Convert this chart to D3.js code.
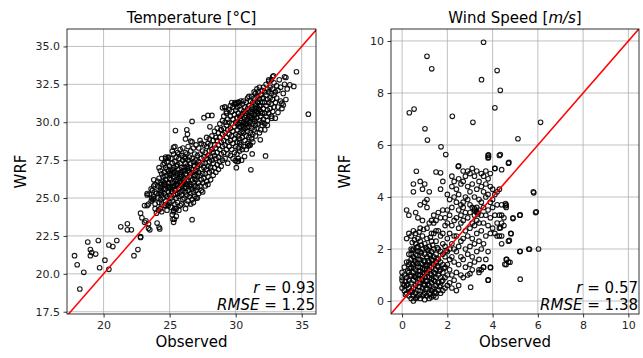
<!DOCTYPE html>
<html>
<head>
<meta charset="utf-8">
<script src="https://cdn.jsdelivr.net/npm/d3@7"></script>
<style>
  body { margin: 0; background: #fff; }
  svg { font-family: "DejaVu Sans", sans-serif; }
</style>
</head>
<body>
<div class="chart"></div>
<script>
/// Chart data: [observed, WRF]
var tempPoints = [
  [17.8,21.2],[18.0,20.6],[18.2,19.0],[18.5,20.1],[18.8,22.1],[19.0,21.6],[19.0,21.2],[19.1,21.4],[19.4,21.3],[19.6,22.2],
  [19.7,20.4],[20.1,20.9],[20.4,21.9],[20.7,21.8],[20.4,20.3],[21.0,22.2],[21.3,23.1],[21.8,23.3],[21.8,22.9],[22.1,22.9],
  [22.3,21.2],[22.6,21.6],[22.8,22.4],[22.8,22.45],[22.8,24.0],[22.9,23.7],[23.1,23.4],[23.2,23.5],[23.4,23.0],[23.5,22.9],
  [23.4,23.3],[23.3,24.5],[23.4,24.6],[23.1,24.5],[23.3,25.2],[23.45,25.25],[23.3,25.3],[23.8,25.8],[23.65,25.0],[23.8,24.95],
  [23.9,24.3],[24.0,24.0],[24.15,24.2],[24.05,23.35],[24.2,23.07],[24.25,22.96],[24.3,24.3],[24.4,24.1],[24.7,24.5],[24.8,24.6],
  [25.2,23.9],[25.25,23.6],[25.3,23.4],[25.3,24.2],[25.4,24.3],[25.44,29.45],[26.3,29.5],[26.35,29.2],[26.6,28.75],[26.2,28.9],
  [25.3,28.35],[26.7,30.05],[28.05,29.7],[28.9,29.5],[24.7,27.7],[24.9,27.65],[26.7,23.57],[25.5,23.8],[25.36,23.6],[27.6,30.3],
  [27.9,30.45],[28.2,30.45],[29.0,30.95],[30.05,27.0],[30.1,27.4],[30.2,27.43],[30.95,28.44],[31.15,26.86],[31.25,27.91],[31.86,28.84],
  [32.26,27.78],[32.73,30.27],[33.0,30.27],[33.2,30.64],[33.6,31.13],[33.5,31.26],[34.6,33.33],[35.5,30.53],[34.4,32.36],[34.1,32.47],
  [33.8,32.95],[33.7,33.0],[32.86,33.06],[32.5,32.8],[30.67,27.74],[30.45,27.5],[29.97,27.47],[31.05,28.49],[30.3,28.66],[30.2,31.33],
  [30.1,31.26],[29.95,31.3],[29.16,31.0],[29.3,30.7],
  [23.6,24.8],[23.7,25.5],[23.8,25.1],[23.9,24.6],[23.9,25.9],[23.6,25.6],[23.8,26.2],[24.0,25.3],[23.7,24.9],[23.9,25.4],
  [24.1,25.0],[24.1,25.8],[24.2,26.3],[24.2,24.7],[24.3,25.5],[24.3,26.0],[24.3,26.8],[24.4,25.2],[24.4,25.9],[24.4,24.6],
  [24.5,25.6],[24.5,26.4],[24.5,27.2],[24.2,25.3],[24.3,24.9],[24.4,26.6],[24.1,26.1],[24.5,25.0],[24.2,27.0],[24.4,27.6],
  [24.3,25.7],[24.5,26.1],
  [24.6,25.3],[24.6,25.9],[24.6,26.7],[24.7,24.8],[24.7,25.6],[24.7,26.2],[24.7,27.0],[24.8,25.1],[24.8,25.8],[24.8,26.5],
  [24.8,27.4],[24.9,24.5],[24.9,25.4],[24.9,26.0],[24.9,26.8],[25.0,25.2],[25.0,25.7],[25.0,26.3],[25.0,27.1],[24.6,24.5],
  [24.7,27.6],[24.8,24.2],[24.9,27.7],[25.0,24.7],[24.6,26.0],[24.7,25.2],[24.8,26.9],[24.9,25.7],[25.0,26.6],[24.6,27.3],
  [25.1,24.4],[25.1,25.0],[25.1,25.6],[25.1,26.2],[25.1,26.9],[25.1,27.6],[25.2,24.8],[25.2,25.4],[25.2,26.0],[25.2,26.6],
  [25.2,27.3],[25.3,25.2],[25.3,25.8],[25.3,26.4],[25.3,27.0],[25.3,27.9],[25.4,24.6],[25.4,25.5],[25.4,26.1],[25.4,26.7],
  [25.4,27.4],[25.5,25.0],[25.5,25.9],[25.5,26.5],[25.5,27.1],[25.5,24.3],[25.2,28.1],[25.4,28.4],[25.3,24.1],[25.5,27.7],
  [25.1,26.5],[25.2,25.7],[25.4,25.8],[25.3,26.7],[25.5,26.2],
  [25.6,24.7],[25.6,25.3],[25.6,25.9],[25.6,26.6],[25.6,27.2],[25.6,28.0],[25.7,25.1],[25.7,25.6],[25.7,26.3],[25.7,26.9],
  [25.7,27.6],[25.8,24.5],[25.8,25.4],[25.8,26.0],[25.8,26.7],[25.8,27.3],[25.8,28.2],[25.9,25.2],[25.9,25.8],[25.9,26.4],
  [25.9,27.0],[25.9,27.8],[26.0,24.9],[26.0,25.5],[26.0,26.2],[26.0,26.8],[26.0,27.5],[25.7,24.2],[25.9,24.6],[26.0,28.3],
  [25.6,26.1],[25.8,26.4],[25.7,27.9],[25.9,26.7],[26.0,25.9],
  [26.1,25.0],[26.1,25.7],[26.1,26.3],[26.1,27.0],[26.1,27.7],[26.2,25.4],[26.2,26.0],[26.2,26.6],[26.2,27.3],[26.2,28.0],
  [26.3,24.6],[26.3,25.2],[26.3,25.9],[26.3,26.5],[26.3,27.1],[26.3,27.9],[26.4,25.5],[26.4,26.2],[26.4,26.8],[26.4,27.5],
  [26.4,28.4],[26.5,25.1],[26.5,25.8],[26.5,26.4],[26.5,27.0],[26.5,27.7],[26.2,24.3],[26.4,24.8],[26.1,26.8],[26.3,26.1],
  [26.5,26.7],[26.2,27.6],
  [26.6,25.3],[26.6,25.9],[26.6,26.6],[26.6,27.3],[26.6,28.1],[26.7,24.9],[26.7,25.6],[26.7,26.2],[26.7,26.9],[26.7,27.6],
  [26.8,25.4],[26.8,26.0],[26.8,26.7],[26.8,27.4],[26.8,28.3],[26.9,25.1],[26.9,25.8],[26.9,26.5],[26.9,27.1],[26.9,27.9],
  [27.0,25.5],[27.0,26.2],[27.0,26.8],[27.0,27.5],[27.0,28.5],[26.6,24.6],[26.8,24.7],[26.7,28.7],[26.9,26.3],[27.0,25.0],
  [27.1,25.7],[27.1,26.4],[27.1,27.1],[27.1,27.8],[27.2,25.3],[27.2,26.0],[27.2,26.7],[27.2,27.4],[27.2,28.3],[27.3,25.8],
  [27.3,26.5],[27.3,27.2],[27.3,27.9],[27.4,25.5],[27.4,26.2],[27.4,26.9],[27.4,27.6],[27.4,28.6],[27.5,26.0],[27.5,26.6],
  [27.5,27.3],[27.5,28.1],[27.3,28.8],[27.1,25.0],[27.5,25.4],
  [27.6,26.3],[27.6,27.0],[27.6,27.7],[27.6,28.5],[27.7,25.8],[27.7,26.6],[27.7,27.3],[27.7,28.0],[27.8,26.1],[27.8,26.9],
  [27.8,27.6],[27.8,28.4],[27.8,29.0],[27.9,26.4],[27.9,27.1],[27.9,27.8],[27.9,28.6],[28.0,26.7],[28.0,27.4],[28.0,28.1],
  [28.0,28.9],[27.9,25.9],
  [28.1,26.2],[28.1,27.0],[28.1,27.7],[28.1,28.5],[28.2,26.8],[28.2,27.5],[28.2,28.2],[28.2,29.1],[28.3,26.5],[28.3,27.3],
  [28.3,28.0],[28.3,28.8],[28.4,27.0],[28.4,27.8],[28.4,28.5],[28.4,29.4],[28.5,26.7],[28.5,27.6],[28.5,28.3],[28.5,29.0],
  [28.6,27.2],[28.6,28.0],[28.6,28.8],[28.6,29.6],[28.7,26.9],[28.7,27.7],[28.7,28.5],[28.7,29.3],[28.8,27.4],[28.8,28.2],
  [28.8,29.0],[28.8,29.9],[28.9,27.9],[28.9,28.7],[28.9,29.5],[29.0,27.5],[29.0,28.4],[29.0,29.2],[29.0,30.1],[28.9,27.1],
  [29.1,28.0],[29.1,28.8],[29.1,29.6],[29.1,30.4],[29.2,27.6],[29.2,28.5],[29.2,29.3],[29.2,30.0],[29.3,28.2],[29.3,29.0],
  [29.3,29.8],[29.3,30.6],[29.4,27.9],[29.4,28.7],[29.4,29.5],[29.4,30.2],[29.5,28.4],[29.5,29.2],[29.5,30.0],[29.5,30.8],
  [29.2,31.0],[29.4,27.3],
  [29.6,28.8],[29.6,29.6],[29.6,30.4],[29.6,31.1],[29.7,28.2],[29.7,29.1],[29.7,29.9],[29.7,30.7],[29.8,28.6],[29.8,29.4],
  [29.8,30.2],[29.8,31.0],[29.9,28.0],[29.9,28.9],[29.9,29.7],[29.9,30.5],[30.0,28.4],[30.0,29.2],[30.0,30.0],[30.0,30.8],
  [29.6,27.8],[29.8,27.6],[30.0,31.2],[29.7,31.3],[29.9,31.2],
  [30.1,28.7],[30.1,29.5],[30.1,30.3],[30.1,31.0],[30.2,28.3],[30.2,29.1],[30.2,29.9],[30.2,30.6],[30.2,31.3],[30.3,28.9],
  [30.3,29.7],[30.3,30.4],[30.3,31.1],[30.4,28.5],[30.4,29.3],[30.4,30.1],[30.4,30.8],[30.5,29.0],[30.5,29.8],[30.5,30.5],
  [30.5,31.2],[30.1,27.9],[30.3,28.1],[30.5,28.2],[30.2,27.6],[30.4,31.4],[30.1,29.9],[30.3,30.0],[30.5,29.4],[30.4,29.7],
  [30.6,29.3],[30.6,30.0],[30.6,30.7],[30.6,31.4],[30.7,28.8],[30.7,29.6],[30.7,30.3],[30.7,31.0],[30.8,29.1],[30.8,29.9],
  [30.8,30.6],[30.8,31.3],[30.9,28.6],[30.9,29.4],[30.9,30.2],[30.9,30.9],[31.0,29.0],[31.0,29.7],[31.0,30.4],[31.0,31.1],
  [31.0,31.7],[30.6,28.4],[30.8,28.2],[30.9,31.6],[30.7,29.9],[30.8,30.1],[30.6,29.7],[31.0,30.0],[30.9,29.9],[30.7,30.6],
  [31.1,29.3],[31.1,30.0],[31.1,30.7],[31.1,31.4],[31.2,28.9],[31.2,29.6],[31.2,30.3],[31.2,31.0],[31.2,31.7],[31.3,29.2],
  [31.3,29.9],[31.3,30.6],[31.3,31.3],[31.4,29.5],[31.4,30.2],[31.4,30.9],[31.4,31.6],[31.5,29.8],[31.5,30.5],[31.5,31.2],
  [31.5,31.9],[31.1,28.5],[31.3,28.7],[31.4,32.0],[31.5,29.1],[31.2,30.6],[31.3,30.2],[31.4,30.5],[31.1,30.3],[31.5,30.9],
  [31.6,29.6],[31.6,30.3],[31.6,31.0],[31.6,31.7],[31.7,29.9],[31.7,30.6],[31.7,31.3],[31.7,32.0],[31.8,29.3],[31.8,30.1],
  [31.8,30.8],[31.8,31.5],[31.9,30.4],[31.9,31.1],[31.9,31.8],[32.0,29.8],[32.0,30.6],[32.0,31.3],[32.0,32.1],[31.6,32.2],
  [31.8,32.3],[31.9,29.5],[32.0,30.0],[31.7,30.9],[31.8,31.1],[31.6,30.7],[31.9,30.7],[32.0,31.6],
  [32.1,30.2],[32.1,30.9],[32.1,31.6],[32.1,32.3],[32.2,29.9],[32.2,30.6],[32.2,31.3],[32.2,32.0],[32.3,30.4],[32.3,31.1],
  [32.3,31.8],[32.3,32.5],[32.4,30.1],[32.4,30.8],[32.4,31.5],[32.4,32.2],[32.5,30.6],[32.5,31.3],[32.5,32.0],[32.5,32.7],
  [32.2,29.5],[32.4,29.8],
  [32.6,30.9],[32.6,31.6],[32.6,32.3],[32.7,30.4],[32.7,31.2],[32.7,31.9],[32.7,32.8],[32.8,30.7],[32.8,31.5],[32.8,32.2],
  [32.9,31.0],[32.9,31.8],[32.9,32.6],[33.0,31.3],[33.0,32.0],[32.8,33.0],
  [33.1,31.6],[33.1,32.4],[33.2,31.0],[33.2,32.1],[33.3,32.8],[33.4,31.4],[33.4,32.3],[33.6,31.9],[33.7,32.5],[33.9,32.2],
  [33.5,30.9],[33.8,31.5],
  [24.35,25.35],[24.65,26.45],[24.95,25.95],[25.25,26.85],[25.45,25.25],[25.75,26.55],[26.05,26.05],[26.35,26.95],[26.65,25.75],[26.95,26.75],
  [25.15,25.45],[25.65,25.65],[26.25,25.65],[26.85,27.15],[30.35,30.25],[30.75,30.45],[31.25,30.85],[31.65,31.35],[30.85,29.65],[31.45,30.05]
];

var windPoints = [
  [3.6,9.95],[1.1,9.41],[1.31,8.93],[4.2,8.86],[3.51,8.51],[4.34,8.1],[0.32,7.24],[0.53,7.38],[2.22,7.1],[4.1,7.43],
  [3.13,6.87],[6.12,6.87],[1.01,6.62],[1.12,6.19],[5.12,6.24],[1.72,5.93],[1.93,5.63],[3.82,5.62],[3.82,5.53],[4.34,5.63],
  [4.72,5.33],[4.1,5.1],[0.63,4.99],[1.5,4.96],[1.7,4.93],[2.48,5.17],[5.82,4.16],[5.93,3.43],[5.63,1.99],[6.03,2.0],
  [5.22,1.91],[5.22,0.84],[3.81,0.81],[3.03,0.53],[5.22,3.31],[4.9,3.17],[4.82,2.59],[4.74,2.33],[4.63,1.6],[4.77,1.49],
  [4.54,1.41],[4.57,3.75],[4.57,3.66],[4.4,3.3],[4.35,2.82],[3.91,1.28],[3.6,1.3],[3.4,1.2],
  [0.0,0.5],[0.0,0.9],[0.1,1.0],[0.1,0.4],[0.0,0.8],[0.1,0.6],[0.2,0.3],[0.2,0.9],[0.1,1.3],[0.2,1.5],[0.0,1.1],[0.2,0.6],
  [0.3,0.2],[0.3,0.5],[0.3,0.8],[0.3,1.1],[0.3,1.4],[0.4,0.4],[0.4,0.7],[0.4,1.0],[0.4,1.3],[0.4,1.6],[0.3,1.8],[0.4,2.0],
  [0.2,2.4],[0.3,2.6],[0.4,2.5],[0.2,3.5],[0.3,3.3],[0.4,0.1],[0.3,1.5],[0.4,1.8],
  [0.5,0.2],[0.5,0.5],[0.5,0.8],[0.5,1.1],[0.5,1.4],[0.5,1.7],[0.5,2.0],[0.6,0.3],[0.6,0.6],[0.6,0.9],[0.6,1.2],[0.6,1.5],
  [0.6,1.8],[0.6,2.2],[0.7,0.4],[0.7,0.7],[0.7,1.0],[0.7,1.3],[0.7,1.6],[0.7,1.9],[0.7,2.4],[0.5,2.7],[0.6,2.6],[0.5,4.2],
  [0.5,4.5],[0.6,3.4],[0.7,3.2],[0.5,0.0],[0.6,0.1],[0.7,0.2],[0.5,1.3],[0.6,1.0],[0.7,2.1],
  [0.8,0.1],[0.8,0.4],[0.8,0.7],[0.8,1.0],[0.8,1.3],[0.8,1.6],[0.8,1.9],[0.8,2.3],[0.9,0.2],[0.9,0.5],[0.9,0.8],[0.9,1.1],
  [0.9,1.4],[0.9,1.7],[0.9,2.0],[0.9,2.5],[1.0,0.3],[1.0,0.6],[1.0,0.9],[1.0,1.2],[1.0,1.5],[1.0,1.8],[1.0,2.2],[0.8,2.8],
  [0.9,3.1],[1.0,3.8],[0.8,4.6],[0.9,4.3],[1.0,4.5],[0.8,3.7],[1.0,0.05],[0.9,1.25],[0.8,1.15],[1.0,1.05],[0.9,0.95],
  [1.1,0.2],[1.1,0.5],[1.1,0.8],[1.1,1.1],[1.1,1.4],[1.1,1.7],[1.1,2.0],[1.1,2.4],[1.2,0.3],[1.2,0.6],[1.2,0.9],[1.2,1.2],
  [1.2,1.5],[1.2,1.8],[1.2,2.1],[1.3,0.4],[1.3,0.7],[1.3,1.0],[1.3,1.3],[1.3,1.6],[1.3,1.9],[1.3,2.3],[1.1,2.8],[1.2,3.0],
  [1.3,2.6],[1.1,3.6],[1.2,4.2],[1.3,3.1],[1.1,3.9],[1.2,0.1],[1.3,0.15],[1.1,1.25],[1.2,1.35],[1.3,0.85],
  [1.4,0.2],[1.4,0.5],[1.4,0.8],[1.4,1.1],[1.4,1.4],[1.4,1.7],[1.4,2.0],[1.4,2.6],[1.5,0.3],[1.5,0.6],[1.5,0.9],[1.5,1.2],
  [1.5,1.5],[1.5,1.8],[1.5,2.3],[1.5,3.1],[1.6,0.4],[1.6,0.7],[1.6,1.0],[1.6,1.3],[1.6,1.6],[1.6,2.0],[1.6,2.7],[1.4,3.0],
  [1.5,2.7],[1.6,3.4],[1.4,3.3],[1.5,0.15],
  [1.7,0.3],[1.7,0.6],[1.7,0.9],[1.7,1.2],[1.7,1.5],[1.7,1.9],[1.7,2.5],[1.8,0.4],[1.8,0.8],[1.8,1.1],[1.8,1.4],[1.8,1.8],
  [1.8,2.2],[1.8,3.5],[1.9,0.5],[1.9,0.9],[1.9,1.3],[1.9,1.7],[1.9,2.1],[1.9,2.9],[1.7,3.2],[1.8,4.6],[1.7,4.3],[1.9,3.2],
  [1.8,2.6],
  [2.0,0.6],[2.0,1.0],[2.0,1.4],[2.0,1.9],[2.0,2.4],[2.0,3.0],[2.0,3.5],[2.0,4.1],[2.1,0.7],[2.1,1.2],[2.1,1.6],[2.1,2.0],
  [2.1,2.6],[2.1,3.3],[2.2,0.5],[2.2,1.0],[2.2,1.7],[2.2,2.2],[2.2,2.9],[2.2,3.6],[2.2,4.4],[2.3,0.8],[2.3,1.5],[2.3,2.0],
  [2.3,2.5],[2.3,3.1],[2.3,4.0],[2.3,4.6],[2.1,3.9],[2.2,4.8],
  [2.4,0.4],[2.4,1.1],[2.4,1.9],[2.4,2.5],[2.4,3.2],[2.4,3.8],[2.4,4.3],[2.5,0.6],[2.5,1.4],[2.5,2.1],[2.5,2.8],[2.5,3.5],
  [2.5,4.1],[2.5,4.7],[2.5,5.2],[2.6,1.0],[2.6,1.7],[2.6,2.3],[2.6,3.0],[2.6,3.7],[2.6,4.5],[2.7,0.9],[2.7,1.6],[2.7,2.4],
  [2.7,3.1],[2.7,3.8],[2.7,4.6],[2.7,5.0],[2.6,3.3],[2.7,3.6],
  [2.8,1.3],[2.8,2.0],[2.8,2.7],[2.8,3.4],[2.8,4.0],[2.8,4.8],[2.9,1.0],[2.9,1.8],[2.9,2.5],[2.9,3.2],[2.9,3.9],[2.9,4.4],
  [2.9,5.0],[3.0,1.4],[3.0,2.1],[3.0,2.8],[3.0,3.4],[3.0,4.2],[3.0,4.9],[3.1,1.7],[3.1,2.4],[3.1,3.0],[3.1,3.6],[3.1,4.5],
  [3.1,5.1],[3.0,1.05],[3.1,1.2],[3.0,3.7],
  [3.2,1.5],[3.2,2.2],[3.2,2.9],[3.2,3.3],[3.2,3.5],[3.2,4.0],[3.2,4.8],[3.3,1.9],[3.3,2.6],[3.3,3.1],[3.3,3.4],[3.3,3.6],
  [3.3,4.3],[3.3,5.0],[3.4,1.6],[3.4,2.3],[3.4,3.0],[3.4,3.5],[3.4,3.9],[3.4,4.6],[3.5,2.0],[3.5,2.7],[3.5,3.3],[3.5,3.8],
  [3.5,4.4],[3.5,4.9],[3.5,1.2],[3.4,1.1],[3.3,3.45],[3.2,3.55],[3.35,3.35],
  [3.6,1.3],[3.6,2.2],[3.6,3.0],[3.6,3.6],[3.6,4.2],[3.6,4.8],[3.7,1.6],[3.7,2.5],[3.7,3.3],[3.7,4.0],[3.7,4.5],[3.7,5.0],
  [3.8,0.8],[3.8,1.9],[3.8,2.9],[3.8,3.5],[3.8,4.1],[3.8,4.7],[3.9,1.3],[3.9,2.6],[3.9,3.2],[3.9,3.8],[3.9,4.4],[3.9,4.9],
  [3.8,5.6],
  [4.0,2.8],[4.0,3.6],[4.0,4.3],[4.0,3.9],[4.1,2.6],[4.1,3.3],[4.1,4.1],[4.1,5.1],[4.2,2.5],[4.2,3.0],[4.2,3.7],[4.2,4.2],
  [4.3,2.5],[4.3,3.3],[4.3,2.8],[4.4,2.2],[4.4,2.5],[4.4,3.0],[4.4,5.05],[4.5,2.9],[4.5,3.2],[4.3,4.3],[4.4,3.7],
  [4.6,1.6],[4.6,1.4],[4.7,1.5],[4.6,3.7],[4.6,3.6],[4.7,2.3],[4.8,2.6],[4.9,3.2],[5.2,3.3],[5.2,1.9],[5.6,2.0],[5.9,3.4],
  [5.8,4.2],[4.7,5.3],[4.3,5.6],[3.8,5.5],
  [0.25,0.65],[0.35,1.25],[0.45,0.35],[0.55,0.95],[0.65,1.45],[0.75,0.55],[0.85,1.85],[0.95,0.25],[1.05,1.35],[1.15,0.65],
  [1.25,1.75],[1.35,0.45],[1.45,1.05],[1.55,1.65],[1.65,0.55],[0.15,0.75],[0.45,1.95],[0.55,2.35],[0.65,0.15],[0.75,1.15],
  [0.85,0.85],[0.95,1.55],[1.05,2.05],[1.15,1.95],[1.25,0.25],[1.35,2.15],[1.45,0.75],[1.55,2.05],[1.65,1.15],[0.35,0.95],
  [0.25,1.15],[0.55,1.55],[0.65,2.05],[0.75,0.85],[0.85,2.15],[0.95,0.65],[1.05,0.75],[1.15,1.55],[1.25,1.05],[1.35,1.55],
  [1.45,0.35],[1.55,1.35],[0.15,0.25],[0.45,2.25],[0.95,2.75],[1.25,2.45],[0.75,2.65],[1.75,0.75],[1.85,1.25],[1.95,1.95],
  [0.05,0.65],[0.35,0.35],[1.05,0.45],[0.65,1.75],[0.85,1.45]
];

var tempXTicks = [20, 25, 30, 35];
var tempYTicks = [17.5, 20, 22.5, 25, 27.5, 30, 32.5, 35];
var windTicks = [0, 2, 4, 6, 8, 10];

var tempStats = { r: "0.93", rmse: "1.25" };
var windStats = { r: "0.57", rmse: "1.38" };

/// SVG wrapper
var svgWidth = 643;
var svgHeight = 358;
var top0 = 29, bottom0 = 314;

var svg = d3.select(".chart")
    .append("svg")
    .attr("width", svgWidth)
    .attr("height", svgHeight);

function drawPanel(opt) {
    var x = d3.scaleLinear().domain(opt.xDomain).range([opt.left, opt.right]);
    var y = d3.scaleLinear().domain(opt.yDomain).range([bottom0, top0]);
    var g = svg.append("g");

    var clipId = "clip-" + opt.id;
    g.append("clipPath").attr("id", clipId)
        .append("rect")
        .attr("x", opt.left).attr("y", top0)
        .attr("width", opt.right - opt.left).attr("height", bottom0 - top0);

    /// grid lines
    g.append("g").selectAll("line").data(opt.xTicks).enter().append("line")
        .attr("x1", d => x(d)).attr("x2", d => x(d))
        .attr("y1", top0).attr("y2", bottom0)
        .attr("stroke", "#b0b0b0").attr("stroke-width", 0.8);
    g.append("g").selectAll("line").data(opt.yTicks).enter().append("line")
        .attr("y1", d => y(d)).attr("y2", d => y(d))
        .attr("x1", opt.left).attr("x2", opt.right)
        .attr("stroke", "#b0b0b0").attr("stroke-width", 0.8);

    /// points
    g.append("g").attr("clip-path", "url(#" + clipId + ")")
        .selectAll("circle").data(opt.points).enter().append("circle")
        .attr("cx", d => x(d[0]))
        .attr("cy", d => y(d[1]))
        .attr("r", 2.3)
        .attr("fill", "none")
        .attr("stroke", "#000")
        .attr("stroke-opacity", 0.9)
        .attr("stroke-width", 1.1);

    /// 1:1 line
    var lo = Math.min(opt.xDomain[0], opt.yDomain[0]);
    var hi = Math.max(opt.xDomain[1], opt.yDomain[1]);
    g.append("line").attr("clip-path", "url(#" + clipId + ")")
        .attr("x1", x(lo)).attr("y1", y(lo))
        .attr("x2", x(hi)).attr("y2", y(hi))
        .attr("stroke", "red").attr("stroke-width", 1.5);

    /// axes
    var xAxis = d3.axisBottom(x).tickValues(opt.xTicks).tickSize(3.5).tickPadding(3.5).tickFormat(opt.xFormat);
    var yAxis = d3.axisLeft(y).tickValues(opt.yTicks).tickSize(3.5).tickPadding(3.5).tickFormat(opt.yFormat);
    var xa = g.append("g").attr("transform", `translate(0, ${bottom0})`).call(xAxis);
    var ya = g.append("g").attr("transform", `translate(${opt.left}, 0)`).call(yAxis);
    [xa, ya].forEach(function(a) {
        a.select(".domain").remove();
        a.selectAll(".tick line").attr("stroke", "#000").attr("stroke-width", 0.8);
        a.selectAll(".tick text").attr("font-family", "DejaVu Sans").attr("fill", "#262626").style("font-size", "11px");
    });

    /// frame
    g.append("rect")
        .attr("x", opt.left).attr("y", top0)
        .attr("width", opt.right - opt.left).attr("height", bottom0 - top0)
        .attr("fill", "none").attr("stroke", "#000").attr("stroke-width", 0.8);

    var cx = (opt.left + opt.right) / 2;

    /// title
    var t = g.append("text").attr("x", cx).attr("y", 23)
        .attr("text-anchor", "middle").attr("font-size", 15).attr("fill", "#000");
    t.append("tspan").text(opt.title);
    if (opt.titleUnitItalic) {
        t.append("tspan").attr("font-style", "italic").text(opt.titleUnitItalic);
        t.append("tspan").text("]");
    }

    /// axis labels
    g.append("text").attr("x", cx).attr("y", 347)
        .attr("text-anchor", "middle").attr("font-size", 15).text("Observed");
    g.append("text")
        .attr("transform", `translate(${opt.left - 41}, ${(top0 + bottom0) / 2}) rotate(-90)`)
        .attr("text-anchor", "middle").attr("font-size", 15).text("WRF");

    /// stats
    var s1 = g.append("text").attr("x", opt.right - 1).attr("y", 293)
        .attr("text-anchor", "end").attr("font-size", 15);
    s1.append("tspan").attr("font-style", "italic").text("r");
    s1.append("tspan").text(" = " + opt.stats.r);
    var s2 = g.append("text").attr("x", opt.right - 1).attr("y", 310)
        .attr("text-anchor", "end").attr("font-size", 15);
    s2.append("tspan").attr("font-style", "italic").text("RMSE");
    s2.append("tspan").text(" = " + opt.stats.rmse);
}

drawPanel({
    id: "temp",
    left: 67, right: 316,
    xDomain: [17.23, 36.08], yDomain: [17.35, 36.15],
    xTicks: tempXTicks, yTicks: tempYTicks,
    xFormat: d3.format("d"), yFormat: d3.format(".1f"),
    points: tempPoints,
    title: "Temperature [\u00b0C]",
    stats: tempStats
});

drawPanel({
    id: "wind",
    left: 391, right: 639,
    xDomain: [-0.49, 10.47], yDomain: [-0.5, 10.46],
    xTicks: windTicks, yTicks: windTicks,
    xFormat: d3.format("d"), yFormat: d3.format("d"),
    points: windPoints,
    title: "Wind Speed [",
    titleUnitItalic: "m/s",
    stats: windStats
});
</script>
</body>
</html>
